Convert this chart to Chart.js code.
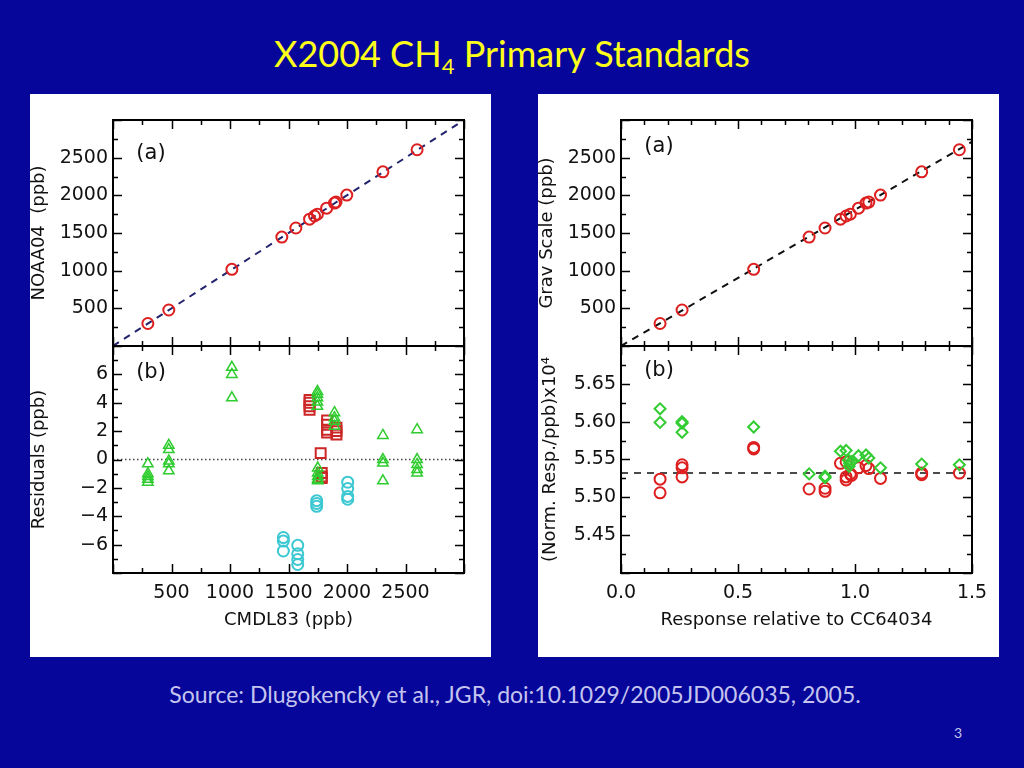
<!DOCTYPE html>
<html>
<head>
<meta charset="utf-8">
<title>X2004 CH4 Primary Standards</title>
<script src="https://cdn.jsdelivr.net/npm/chart.js@4.4.1/dist/chart.umd.min.js"></script>
<style>
  body { margin: 0; width: 1024px; height: 768px; background: #06069a; position: relative; overflow: hidden; font-family: Lato, 'Open Sans', sans-serif; }
  #title { position: absolute; top: 32px; left: 0; width: 1024px; text-align: center; color: #ffff1a; font-size: 36px; line-height: 42px; }
  #title sub { font-size: 22px; line-height: 0; vertical-align: -7px; }
  .panel { position: absolute; top: 94px; width: 461px; height: 563px; background: #fff; }
  .panel canvas { position: absolute; left: 0; }
  #source { position: absolute; top: 680px; left: 0; width: 1030px; text-align: center; color: #c4c4ee; font-size: 23px; }
  #page { position: absolute; top: 724px; left: 954px; color: #c4c4ee; font-size: 14px; }
</style>
</head>
<body>
<div id="title">X2004 CH<sub>4</sub> Primary Standards</div>

<div class="panel" style="left:30px">
  <canvas id="leftA" width="461" height="253" style="top:0"></canvas>
  <canvas id="leftB" width="461" height="312" style="top:251px"></canvas>
</div>
<div class="panel" style="left:538px">
  <canvas id="rightA" width="461" height="253" style="top:0"></canvas>
  <canvas id="rightB" width="461" height="312" style="top:251px"></canvas>
</div>

<div id="source">Source: Dlugokencky et al., JGR, doi:10.1029/2005JD006035, 2005.</div>
<div id="page">3</div>

<script>
// ---- data ----
// standards, CMDL83 scale vs NOAA04 scale (ppb)
const cmdl83 = [298, 477, 1016, 1443, 1563, 1680, 1722, 1747, 1826, 1893, 1906, 1998, 2307, 2599];
const noaa04 = [299, 478, 1018, 1446, 1566, 1684, 1726, 1750, 1830, 1897, 1910, 2003, 2312, 2605];
const oneToOneX = [0, 3000];
const oneToOneY = [0, 3000];

// residuals (ppb) vs CMDL83
const triX = [298, 298, 298, 298, 298, 477, 477, 477, 477, 477, 1016, 1016, 1016,
  1747, 1747, 1747, 1747, 1747, 1750, 1750, 1750, 1750, 1750, 1893, 1893, 1893, 1893,
  2307, 2307, 2307, 2307, 2599, 2599, 2599, 2599, 2599];
const triY = [-0.3, -1.0, -1.2, -1.4, -1.6, 1.0, 0.7, -0.1, -0.3, -0.8, 6.5, 6.0, 4.35,
  4.8, 4.6, 4.35, 4.05, 3.75, -0.6, -0.95, -1.2, -1.4, -1.5, 3.3, 2.95, 2.7, 2.35,
  1.7, 0.0, -0.25, -1.5, 2.1, 0.0, -0.35, -0.7, -0.95];
const sqX = [1680, 1680, 1680, 1680, 1830, 1830, 1830, 1830, 1910, 1910, 1910, 1775, 1784, 1784, 1784];
const sqY = [4.2, 4.0, 3.75, 3.5, 2.75, 2.45, 2.1, 1.9, 2.25, 2.0, 1.75, 0.45, -0.95, -1.2, -1.3];
const cycX = [1456, 1456, 1456, 1579, 1579, 1579, 1579, 1741, 1741, 1741, 2006, 2006, 2006, 2006];
const cycY = [-5.5, -5.75, -6.45, -6.05, -6.65, -7.05, -7.4, -2.9, -3.1, -3.3, -1.6, -2.05, -2.6, -2.8];
const zeroX = [0, 3000];
const zeroY = [0, 0];

// gravimetric scale vs response relative to CC64034
const respRel = [0.167, 0.261, 0.567, 0.804, 0.872, 0.938, 0.962, 0.980, 1.015, 1.047, 1.059, 1.109, 1.285, 1.446];
const gravPpb = [299, 478, 1018, 1446, 1566, 1684, 1726, 1750, 1830, 1897, 1910, 2003, 2312, 2605];
const gravFitX = [0, 1.5];
const gravFitY = [0, 2712];

// normalized response per ppb (x10^4)
const diaX = [0.167, 0.167, 0.261, 0.261, 0.261, 0.567, 0.804, 0.872, 0.872, 0.938, 0.962,
  0.972, 0.977, 0.975, 0.985, 1.015, 1.047, 1.059, 1.109, 1.285, 1.446];
const diaY = [5.617, 5.599, 5.600, 5.598, 5.586, 5.593, 5.531, 5.528, 5.526, 5.561, 5.562,
  5.549, 5.545, 5.541, 5.547, 5.555, 5.556, 5.552, 5.539, 5.544, 5.543];
const ringX = [0.167, 0.167, 0.261, 0.261, 0.261, 0.567, 0.567, 0.804, 0.872, 0.872, 0.938, 0.962,
  0.962, 0.962, 0.980, 0.985, 1.015, 1.047, 1.059, 1.109, 1.285, 1.285, 1.446];
const ringY = [5.524, 5.506, 5.543, 5.539, 5.527, 5.566, 5.564, 5.511, 5.512, 5.508, 5.545, 5.547,
  5.527, 5.523, 5.531, 5.529, 5.539, 5.542, 5.538, 5.525, 5.532, 5.530, 5.532];
const meanX = [0, 1.5];
const meanY = [5.532, 5.532];

// ---- helpers ----
const pts = (xs, ys) => xs.map((x, i) => ({ x: x, y: ys[i] }));
const tickFont = { family: 'DejaVu Sans', size: 19 };
const titleFont = { family: 'DejaVu Sans', size: 18, lineHeight: 1 };

function isMajor(v, step) {
  const r = v / step;
  return Math.abs(r - Math.round(r)) < 1e-6;
}

// IDL style box: frame plus inward ticks on all four sides
const framePlugin = {
  id: 'frame',
  afterDatasetsDraw(chart, args, opts) {
    const { ctx, chartArea: a, scales } = chart;
    ctx.save();
    ctx.strokeStyle = '#000';
    ctx.lineWidth = 1.5;
    ctx.beginPath();
    scales.x.ticks.forEach(t => {
      const px = Math.round(scales.x.getPixelForValue(t.value)) + 0.5;
      const len = isMajor(t.value, opts.xStep) ? 9 : 5;
      ctx.moveTo(px, a.bottom); ctx.lineTo(px, a.bottom - len);
      ctx.moveTo(px, a.top); ctx.lineTo(px, a.top + len);
    });
    scales.y.ticks.forEach(t => {
      const py = Math.round(scales.y.getPixelForValue(t.value)) + 0.5;
      const len = isMajor(t.value, opts.yStep) ? 9 : 5;
      ctx.moveTo(a.left, py); ctx.lineTo(a.left + len, py);
      ctx.moveTo(a.right, py); ctx.lineTo(a.right - len, py);
    });
    ctx.stroke();
    ctx.lineWidth = 2;
    ctx.strokeRect(a.left, a.top, a.right - a.left, a.bottom - a.top);
    ctx.fillStyle = '#111';
    ctx.font = '21px "DejaVu Sans"';
    ctx.textAlign = 'center';
    ctx.textBaseline = 'middle';
    ctx.fillText(opts.label, a.left + 38, a.top + opts.labelDy);
    ctx.restore();
  }
};

function xAxis(min, max, step, major, fmt, showLabels, title) {
  return {
    type: 'linear', min: min, max: max,
    grid: { display: false, drawTicks: false }, border: { display: false },
    ticks: {
      display: showLabels, stepSize: step, autoSkip: false, maxRotation: 0, padding: 9,
      font: tickFont, color: '#111',
      callback: v => (isMajor(v, major) && v > min && v < max) || (fmt.edges && isMajor(v, major)) ? fmt(v) : ''
    },
    title: { display: !!title, text: title, font: titleFont, color: '#111', padding: { top: 0, bottom: 28 } },
    afterFit: s => { s.height = showLabels ? 84 : 0; s.paddingLeft = 0; s.paddingRight = 0; }
  };
}

function yAxis(min, max, step, major, fmt, title, titlePad) {
  return {
    type: 'linear', min: min, max: max,
    grid: { display: false, drawTicks: false }, border: { display: false },
    ticks: {
      stepSize: step, autoSkip: false, padding: 5, font: tickFont, color: '#111',
      callback: v => isMajor(v, major) && v > min + step / 2 && v < max - step / 2 ? fmt(v) : ''
    },
    title: { display: true, text: title, font: titleFont, color: '#111', padding: { top: titlePad, bottom: 0 } },
    afterFit: s => { s.width = 83; s.paddingTop = 0; s.paddingBottom = 0; }
  };
}

function makeChart(id, datasets, scales, frame, top) {
  return new Chart(document.getElementById(id), {
    type: 'scatter',
    data: { datasets: datasets },
    options: {
      responsive: false,
      animation: false,
      layout: {
        autoPadding: false,
        padding: top ? { left: 0, top: 26, right: 27, bottom: 1 } : { left: 0, top: 1, right: 27, bottom: 0 }
      },
      plugins: { legend: { display: false }, tooltip: { enabled: false }, frame: frame },
      scales: scales
    },
    plugins: [framePlugin]
  });
}

const ppb = v => String(v);
const minus = v => (v < 0 ? '\u2212' + Math.abs(v) : String(v));
const oneDec = v => v.toFixed(1);
oneDec.edges = true;
const twoDec = v => v.toFixed(2);

const redRing = { pointStyle: 'circle', pointRadius: 5.5, borderColor: '#dd1f1f', borderWidth: 2, backgroundColor: 'rgba(0,0,0,0)' };

// ---- left panel ----
makeChart('leftA', [
  Object.assign({ data: pts(cmdl83, noaa04) }, redRing),
  { data: pts(oneToOneX, oneToOneY), showLine: true, pointRadius: 0, borderColor: '#23236e', borderWidth: 2, borderDash: [7, 6] }
], {
  x: xAxis(0, 3000, 250, 500, ppb, false),
  y: yAxis(0, 3000, 250, 500, ppb, 'NOAA04  (ppb)', 0)
}, { xStep: 500, yStep: 500, label: '(a)', labelDy: 34 }, true);

makeChart('leftB', [
  { data: pts(triX, triY), pointStyle: 'triangle', pointRadius: 6, borderColor: '#2ecc2e', borderWidth: 1.5, backgroundColor: 'rgba(0,0,0,0)' },
  { data: pts(sqX, sqY), pointStyle: 'rect', pointRadius: 7, borderColor: '#cc2626', borderWidth: 2, backgroundColor: 'rgba(0,0,0,0)' },
  { data: pts(cycX, cycY), pointStyle: 'circle', pointRadius: 5.5, borderColor: '#3cc8d2', borderWidth: 2, backgroundColor: 'rgba(0,0,0,0)' },
  { data: pts(zeroX, zeroY), showLine: true, pointRadius: 0, borderColor: '#444', borderWidth: 1.5, borderDash: [1.5, 2.5] }
], {
  x: xAxis(0, 3000, 250, 500, ppb, true, 'CMDL83 (ppb)'),
  y: yAxis(-8, 8, 1, 2, minus, 'Residuals (ppb)', 0)
}, { xStep: 500, yStep: 2, label: '(b)', labelDy: 27 }, false);

// ---- right panel ----
makeChart('rightA', [
  Object.assign({ data: pts(respRel, gravPpb) }, redRing),
  { data: pts(gravFitX, gravFitY), showLine: true, pointRadius: 0, borderColor: '#111', borderWidth: 2, borderDash: [7, 6] }
], {
  x: xAxis(0, 1.5, 0.1, 0.5, oneDec, false),
  y: yAxis(0, 3000, 250, 500, ppb, 'Grav Scale (ppb)', 0)
}, { xStep: 0.5, yStep: 500, label: '(a)', labelDy: 27 }, true);

makeChart('rightB', [
  { data: pts(diaX, diaY), pointStyle: 'rectRot', pointRadius: 5.5, borderColor: '#33cc33', borderWidth: 2, backgroundColor: 'rgba(0,0,0,0)' },
  Object.assign({ data: pts(ringX, ringY) }, redRing),
  { data: pts(meanX, meanY), showLine: true, pointRadius: 0, borderColor: '#111', borderWidth: 1.5, borderDash: [7, 6] }
], {
  x: xAxis(0, 1.5, 0.1, 0.5, oneDec, true, 'Response relative to CC64034'),
  y: yAxis(5.4, 5.7, 0.025, 0.05, twoDec, '(Norm. Resp./ppb)x10\u2074', 3)
}, { xStep: 0.5, yStep: 0.05, label: '(b)', labelDy: 25 }, false);
</script>
</body>
</html>
